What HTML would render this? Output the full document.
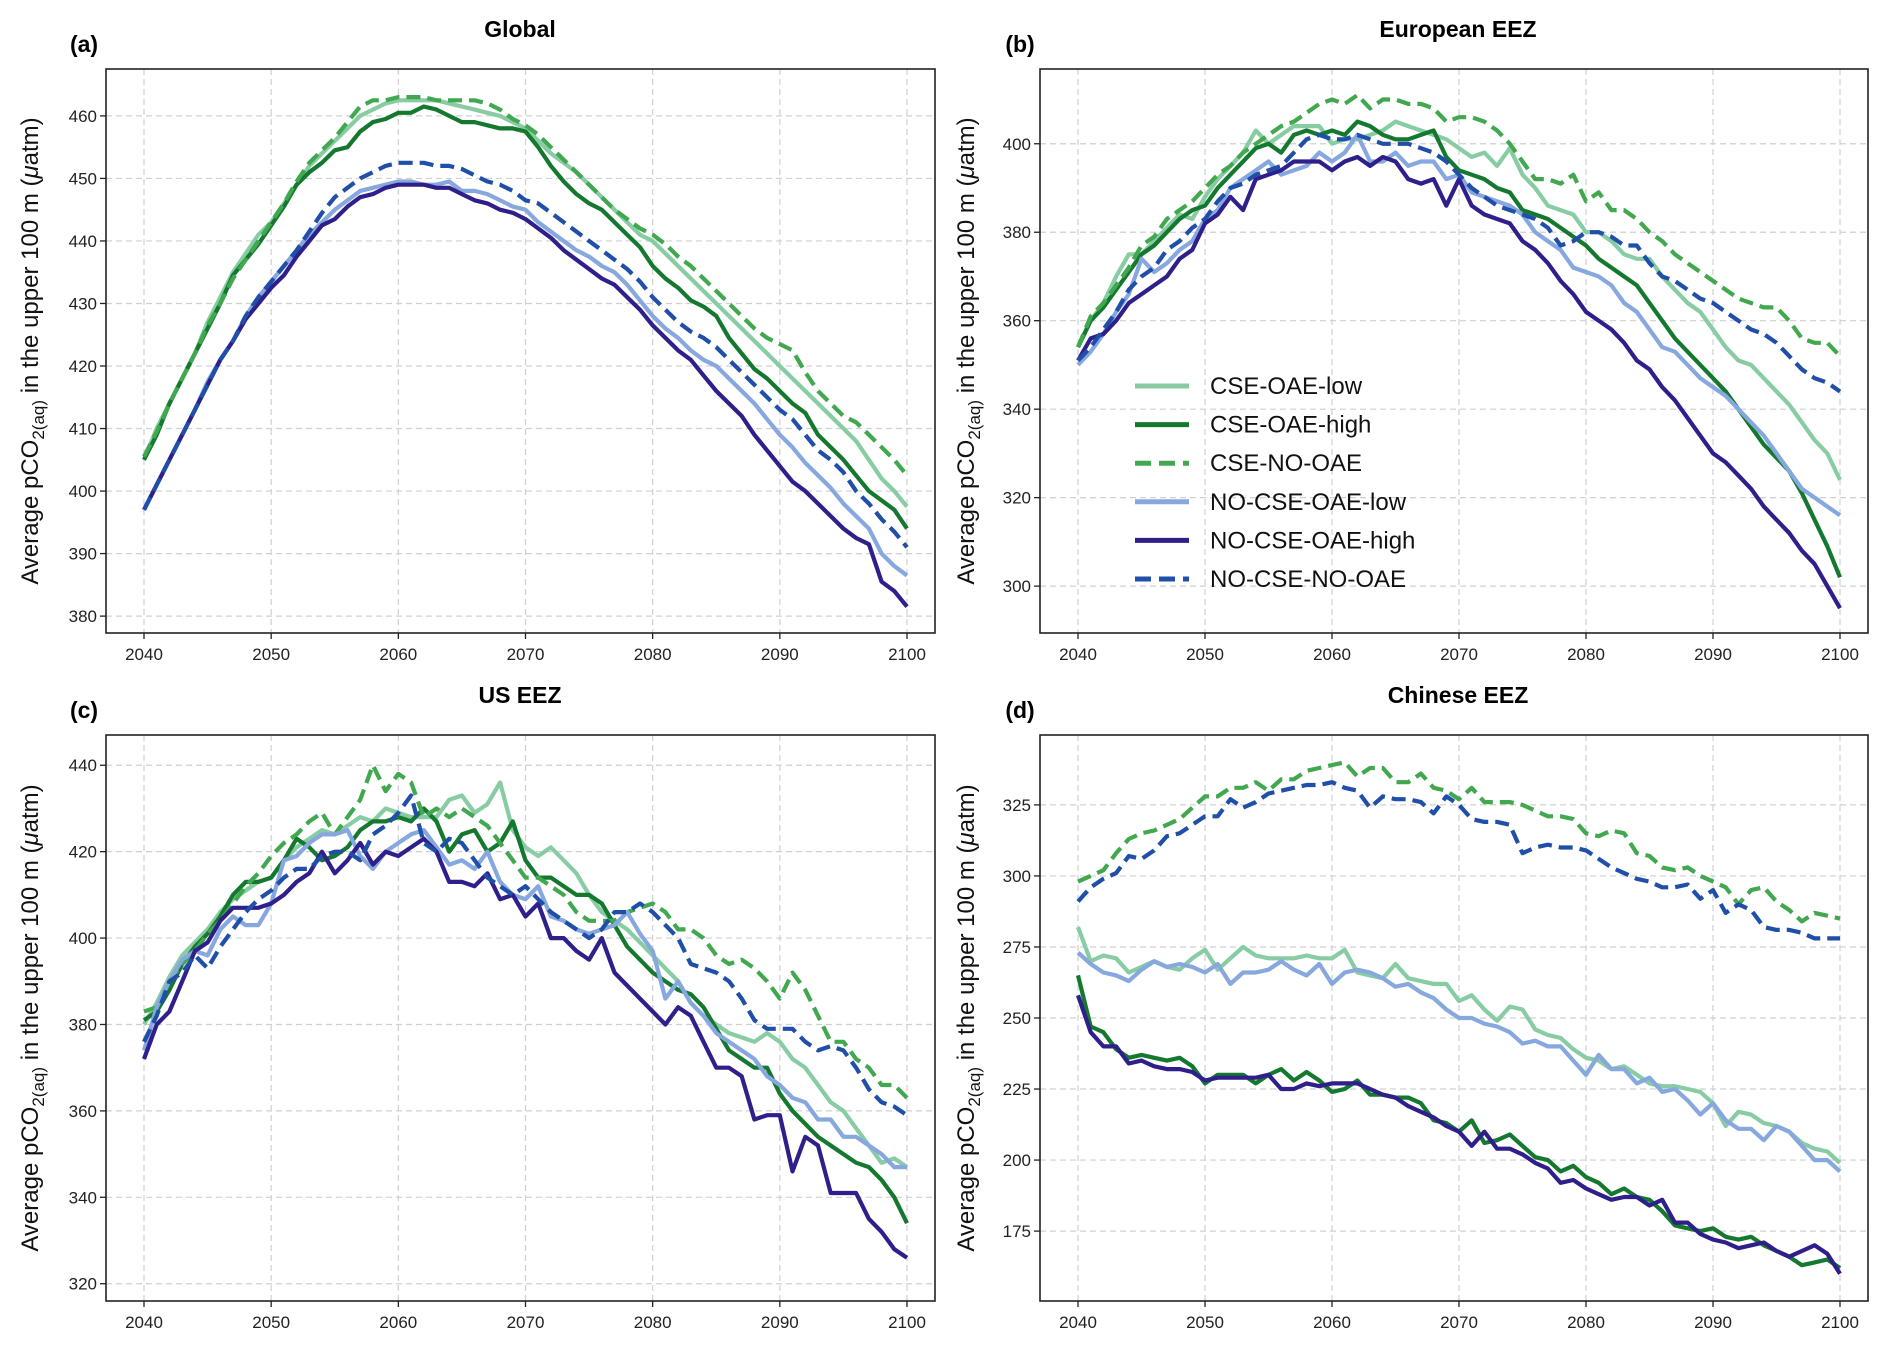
<!DOCTYPE html>
<html><head><meta charset="utf-8"><style>
body{margin:0;background:#fff}
svg{display:block;font-family:"Liberation Sans","DejaVu Sans",sans-serif}
</style></head><body>
<svg id="fig" width="1892" height="1346" viewBox="0 0 1892 1346" xmlns="http://www.w3.org/2000/svg"></svg>
<script>
const years = []; for (let y = 2040; y <= 2100; y++) years.push(y);
const seriesNames = ["CSE-OAE-low","CSE-OAE-high","CSE-NO-OAE","NO-CSE-OAE-low","NO-CSE-OAE-high","NO-CSE-NO-OAE"];
const xTicks = [2040,2050,2060,2070,2080,2090,2100];

const a_low=[405,410,414,418,422,427,431,435,438,441,443,446,449,452,454,456,458,460,461,462,462.5,462.5,462.5,462.5,462,461.5,461,460.5,460,459,458,456,454,452.5,451,449,447,445,443,441,440,438,436,434,432,430,428,426,424,422,420,418,416,414,412,410,408,405,402,400,397.5];
const a_high=[405,409,414,418,422,426,430,434.5,437,439.5,442.5,445.5,449,451,452.5,454.5,455,457.5,459,459.5,460.5,460.5,461.5,461,460,459,459,458.5,458,458,457.5,455,452,449.5,447.5,446,445,443,441,439,436,434,432.5,430.5,429.5,428,424.5,422,419.5,418,416,414,412.5,409,407,405,402.5,400,398.5,397,394];
const a_none=[405.5,409.5,414,418,422,426.5,430,434,437,440,443,446,449.5,452.5,454.5,456.5,459,461.5,462.5,462.5,463,463,463,462.5,462.5,462.5,462.5,462,461,459.5,458.5,457,455,453,451,449,447,445,443.5,442,441,439.5,437.5,436,434,432,430,428,426,424.5,423.5,422.5,419,416,414,412,411,409,407,405,402.5];
const a_nlow=[397,401,405,409,413,417.5,421,424,428,431,433.5,436,438.5,441,443,445,446.5,448,448.5,449,449.5,449.5,449,449,449.5,448,448,447.5,446.5,445.5,445,443,441.5,440,438.5,437.5,436,435,433,430.5,428,426,424.5,422.5,421,420,418,416,414,411.5,409,407,404.5,402.5,400.5,398,396,394,390,388,386.5];
const a_nhigh=[397,401,405,409,413,417,421,424,427.5,430,432.5,434.5,437.5,440,442.5,443.5,445.5,447,447.5,448.5,449,449,449,448.5,448.5,447.5,446.5,446,445,444.5,443.5,442,440.5,438.5,437,435.5,434,433,431,429,426.5,424.5,422.5,421,418.5,416,414,412,409,406.5,404,401.5,400,398,396,394,392.5,391.5,385.5,384,381.5];
const a_nnone=[397,401,405,409,413,417,421,424,428,431,433.5,436,438.5,441.5,444.5,447,448.5,450,451,452,452.5,452.5,452.5,452,452,451.5,450.5,449.5,449,448,446.5,446,444.5,443,441.5,440,438.5,437,435.5,433.5,431,429,427,425.5,424.5,423,421,419,417,415,413,411.5,409,406.5,405,403,400,398,395.5,393.5,391];

const b_low=[354,360,364,370,375,375,378,381,384,383,388,392,395,398,403,400,402,404,404,404,400,401,401,402,403,405,404,403,402,401,399,397,398,395,399,393,390,386,385,384,380,380,378,375,374,374,370,367,364,362,358,354,351,350,347,344,341,337,333,330,324];
const b_high=[354,360,363,367,371,375,377,380,383,385,386,390,393,396,399,400,398,402,403,402,403,402,405,404,402,401,401,402,403,397,394,393,392,390,389,385,384,383,381,379,377,374,372,370,368,364,360,356,353,350,347,344,340,336,332,329,326,321,315,309,302];
const b_none=[354,361,364,368,372,377,379,383,385,387,390,393,395,398,400,402,404,405,407,409,410,409,411,408,410,410,409,409,408,405,406,406,405,403,400,396,392,392,391,393,387,389,385,385,383,380,378,375,373,371,369,367,365,364,363,363,360,356,355,355,352];
const b_nlow=[350,353,357,362,366,374,371,373,376,378,383,385,390,392,394,396,393,394,395,398,396,398,402,396,396,398,395,396,396,392,393,389,388,387,386,384,380,378,376,372,371,370,368,364,362,358,354,353,350,347,345,343,340,337,334,330,326,322,320,318,316];
const b_nhigh=[351,356,357,360,364,366,368,370,374,376,382,384,388,385,392,393,394,396,396,396,394,396,397,395,397,396,392,391,392,386,392,386,384,383,382,378,376,373,369,366,362,360,358,355,351,349,345,342,338,334,330,328,325,322,318,315,312,308,305,300,295];
const b_nnone=[351,354,358,362,367,370,372,376,378,381,383,387,390,391,393,394,395,398,401,402,401,401,402,401,400,400,400,399,398,396,393,390,388,386,385,384,383,381,377,378,380,380,379,377,377,373,370,369,367,365,364,362,360,358,357,355,352,349,347,346,344];

const c_low=[380,385,391,396,399,402,406,409,411,413,414,418,421,423,425,424,426,428,427,430,429,428,428,428,432,433,429,431,436,425,421,419,421,418,415,410,406,404,402,399,396,393,390,385,382,380,378,377,376,378,376,372,370,366,362,360,356,352,348,349,347];
const c_high=[381,383,388,394,398,401,405,410,413,413,414,418,423,421,418,419,421,425,427,427,428,427,430,427,420,424,425,420,422,427,418,414,414,412,410,410,408,403,398,395,392,390,388,387,384,379,374,372,370,370,364,360,357,354,352,350,348,347,344,340,334];
const c_none=[383,384,390,394,397,401,404,408,412,415,419,422,424,427,429,424,428,432,440,434,438,436,428,430,428,430,428,426,422,418,414,414,412,410,406,404,404,404,406,407,408,406,402,402,400,396,394,395,393,390,386,392,388,382,376,376,372,370,366,366,363];
const c_nlow=[374,384,390,395,397,396,402,405,403,403,408,418,419,422,424,424,425,419,416,420,422,424,425,421,417,418,416,420,413,410,409,412,405,404,402,401,402,403,406,401,397,386,390,385,382,378,376,374,372,368,366,363,362,358,358,354,354,352,350,347,347];
const c_nhigh=[372,380,383,390,397,399,404,407,407,407,408,410,413,415,420,415,418,422,417,420,419,421,423,420,413,413,412,415,409,410,405,408,400,400,397,395,400,392,389,386,383,380,384,382,376,370,370,368,358,359,359,346,354,352,341,341,341,335,332,328,326];
const c_nnone=[376,382,390,392,396,393,398,402,406,409,411,414,416,416,419,420,420,418,424,426,429,433,422,420,423,422,418,414,412,410,412,409,406,404,402,400,402,406,406,408,406,403,400,394,393,392,390,386,381,379,379,379,376,374,375,374,370,365,362,361,359];

const d_low=[282,270,272,271,266,268,270,268,267,271,274,267,271,275,272,271,271,271,272,271,271,274,266,265,264,269,264,263,262,262,256,258,253,249,254,253,246,244,243,239,236,235,232,233,230,227,226,226,225,224,220,212,217,216,213,212,210,206,204,203,199];
const d_high=[265,247,245,239,236,237,236,235,236,233,227,230,230,230,227,230,232,228,231,228,224,225,228,223,223,222,222,220,214,213,210,214,206,207,209,205,201,200,196,198,194,192,188,190,187,186,182,177,176,175,176,173,172,173,170,168,166,163,164,165,162];
const d_none=[298,300,302,308,313,315,316,318,320,324,328,328,331,331,333,330,334,334,337,338,339,340,335,338,338,333,333,336,331,330,327,331,326,326,326,325,323,321,321,320,315,314,316,315,308,307,303,302,303,300,298,296,290,295,296,291,288,284,287,286,285];
const d_nlow=[273,269,266,265,263,267,270,268,269,268,266,269,262,266,266,267,270,267,265,269,262,266,267,266,264,261,262,259,257,253,250,250,248,247,245,241,242,240,240,235,230,237,232,232,227,229,224,225,221,216,220,214,211,211,207,212,210,205,200,200,196];
const d_nhigh=[258,245,240,240,234,235,233,232,232,231,228,229,229,229,229,230,225,225,227,226,227,227,227,225,223,222,219,217,215,212,210,205,210,204,204,202,199,197,192,193,190,188,186,187,187,184,186,178,178,174,172,171,169,170,171,168,166,168,170,167,160];
const d_nnone=[291,296,299,301,307,306,309,314,315,318,321,321,327,324,326,329,330,331,332,332,333,331,330,324,328,327,327,326,322,328,325,320,319,319,318,308,310,311,310,310,309,306,303,301,299,298,296,296,297,292,295,287,290,288,282,281,281,280,278,278,278];

const yTicksA=[380,390,400,410,420,430,440,450,460];
const yTicksB=[300,320,340,360,380,400];
const yTicksC=[320,340,360,380,400,420,440];
const yTicksD=[175,200,225,250,275,300,325];

const styles=[
 {c:"#88cca4",d:null},{c:"#15782f",d:null},{c:"#41a84f",d:"14,7"},
 {c:"#86a8de",d:null},{c:"#2e1f8a",d:null},{c:"#1f4fa8",d:"14,7"}];

const NS="http://www.w3.org/2000/svg";
const svg=document.getElementById('fig');
function mk(tag,attrs,parent){const e=document.createElementNS(NS,tag);for(const k in attrs)e.setAttribute(k,attrs[k]);(parent||svg).appendChild(e);return e;}

const panels=[
 {id:"a",title:"Global",L:106,R:935,T:69,B:633,ymin:377.3,ymax:467.5,ticks:yTicksA,data:[a_low,a_high,a_none,a_nlow,a_nhigh,a_nnone],ylab:30,tx:520,lx:84},
 {id:"b",title:"European EEZ",L:1040,R:1868,T:69,B:633,ymin:289.4,ymax:416.9,ticks:yTicksB,data:[b_low,b_high,b_none,b_nlow,b_nhigh,b_nnone],ylab:966,tx:1458,lx:1020},
 {id:"c",title:"US EEZ",L:106,R:935,T:735,B:1301,ymin:316,ymax:447,ticks:yTicksC,data:[c_low,c_high,c_none,c_nlow,c_nhigh,c_nnone],ylab:30,tx:520,lx:84},
 {id:"d",title:"Chinese EEZ",L:1040,R:1868,T:735,B:1301,ymin:150.4,ymax:349.6,ticks:yTicksD,data:[d_low,d_high,d_none,d_nlow,d_nhigh,d_nnone],ylab:966,tx:1458,lx:1020}
];

panels.forEach(p=>{
  const xs=v=>p.L+38+(v-2040)/60*(p.R-p.L-38-28);
  const ys=v=>p.B-(v-p.ymin)/(p.ymax-p.ymin)*(p.B-p.T);
  const g=mk('g',{});
  
  
  // grid
  xTicks.forEach(t=>{
    const l=mk('line',{x1:xs(t),x2:xs(t),y1:p.T,y2:p.B,stroke:"#d0d0d0","stroke-width":1.2,"stroke-dasharray":"6,4"},g);
    
    mk('line',{x1:xs(t),x2:xs(t),y1:p.B,y2:p.B+6,stroke:"#222","stroke-width":1.3},g);
    const tx=mk('text',{x:xs(t),y:p.B+27,"text-anchor":"middle","font-size":17,fill:"#222"},g);
    tx.textContent=t;
    
  });
  p.ticks.forEach(t=>{
    const l=mk('line',{x1:p.L,x2:p.R,y1:ys(t),y2:ys(t),stroke:"#d0d0d0","stroke-width":1.2,"stroke-dasharray":"6,4"},g);
    
    mk('line',{x1:p.L-6,x2:p.L,y1:ys(t),y2:ys(t),stroke:"#222","stroke-width":1.3},g);
    const tx=mk('text',{x:p.L-9,y:ys(t)+6,"text-anchor":"end","font-size":17,fill:"#222"},g);
    tx.textContent=t;
    
  });
  // series
  p.data.forEach((arr,i)=>{
    const pts=arr.map((v,j)=>xs(years[j]).toFixed(1)+","+ys(v).toFixed(1)).join(" ");
    const pl=mk('polyline',{points:pts,fill:"none",stroke:styles[i].c,"stroke-width":4.2,"stroke-linejoin":"round"},g);
    if(styles[i].d)pl.setAttribute('stroke-dasharray',styles[i].d);
    
    
  });
  const fr=mk('rect',{x:p.L,y:p.T,width:p.R-p.L,height:p.B-p.T,fill:"none",stroke:"#222","stroke-width":1.6},g);
  
  const ti=mk('text',{x:p.tx,y:p.T-32,"text-anchor":"middle","font-size":23,"font-weight":"bold",fill:"#000"},g);
  ti.textContent=p.title;
  
  const lb=mk('text',{x:p.lx,y:p.T-17,"text-anchor":"middle","font-size":23,"font-weight":"bold",fill:"#000"},g);
  lb.textContent="("+p.id+")";
  
  const cy=(p.T+p.B)/2;
  const yl=mk('text',{x:0,y:0,"text-anchor":"middle","font-size":24,fill:"#111",transform:`translate(${p.ylab+8},${cy}) rotate(-90)`},g);
  
  yl.innerHTML='Average pCO<tspan font-size="17" dy="6">2(aq)</tspan><tspan dy="-6"> in the upper 100 m (</tspan><tspan font-style="italic">μ</tspan><tspan>atm)</tspan>';
});

// legend in panel b
const lg=mk('g',{});


seriesNames.forEach((n,i)=>{
  const y=386+i*38.6;
  const l=mk('line',{x1:1135,x2:1189,y1:y,y2:y,stroke:styles[i].c,"stroke-width":5},lg);
  if(styles[i].d)l.setAttribute('stroke-dasharray',"16,8");
  
  const t=mk('text',{x:1210,y:y+8,"font-size":24,fill:"#111"},lg);
  t.textContent=n;
  
});
</script>
</body></html>
